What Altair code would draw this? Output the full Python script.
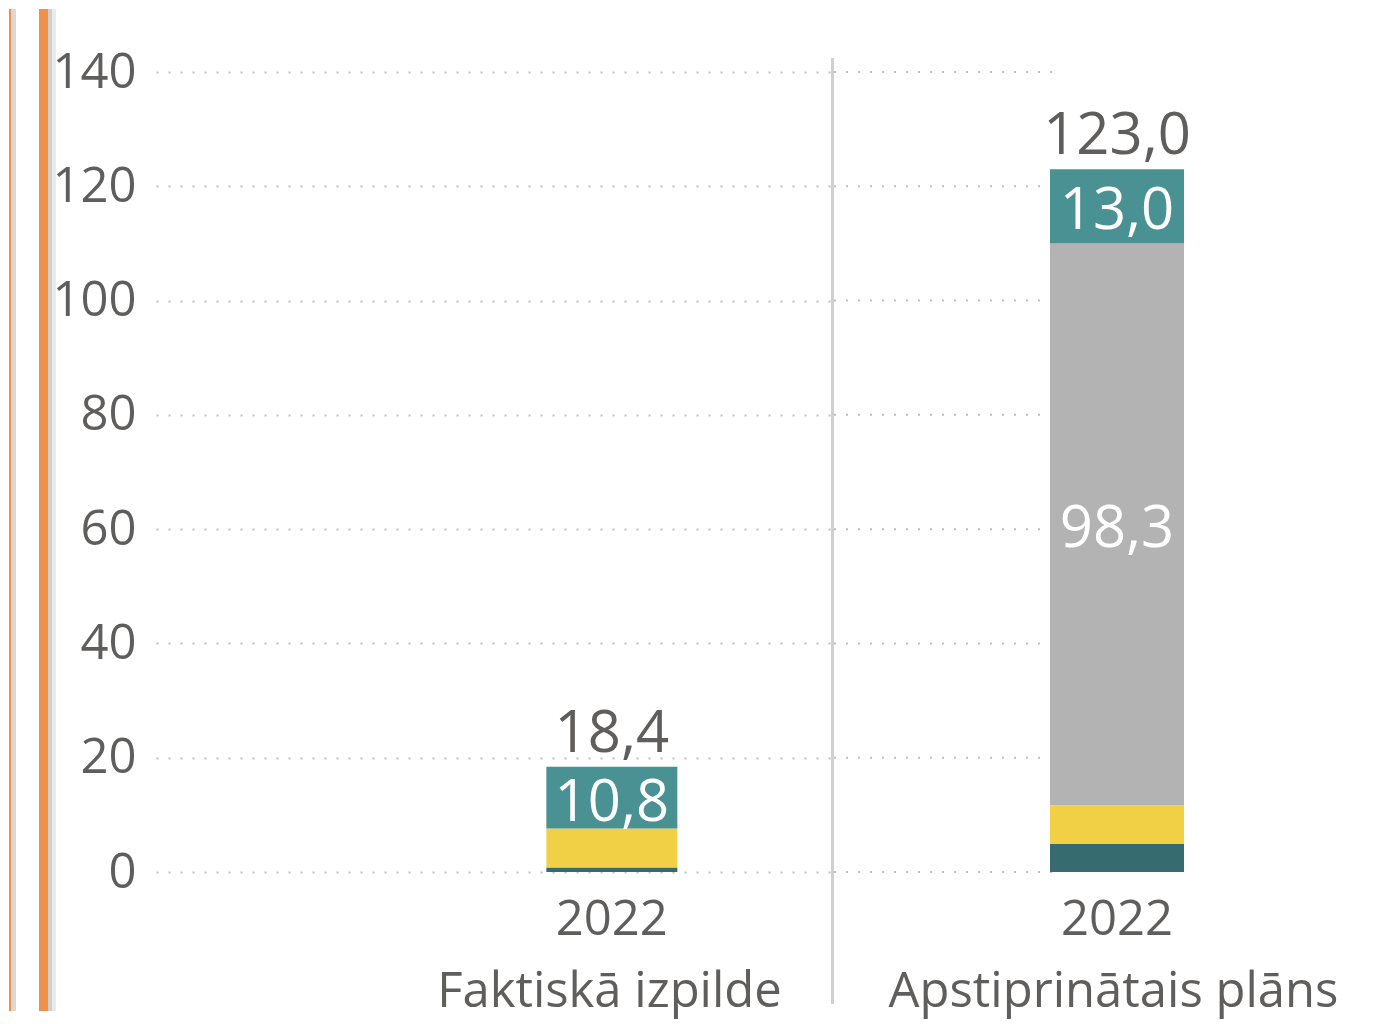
import altair as alt
import pandas as pd

# ---- data ----
groups = ["Faktiskā izpilde", "Apstiprinātais plāns"]
year = "2022"
series = ["Sērija 1", "Sērija 2", "Sērija 3", "Sērija 4"]  # bottom -> top
colors = ["#366C6F", "#F2D045", "#B3B3B3", "#4A9193"]
fakt_values = [0.8, 6.8, 0.0, 10.8]
plan_values = [4.9, 6.8, 98.3, 13.0]
totals = [18.4, 123.0]
show_label = [False, False, True, True]
y_ticks = [0, 20, 40, 60, 80, 100, 120, 140]

FONT = "Open Sans"
TXT = "#605E5C"
GRID = "#BFBFBF"
FS = 49      # axis text
FS_LBL = 58  # data labels


def fmt(v):
    return f"{v:.1f}".replace(".", ",")


def seg_df(values):
    return pd.DataFrame({
        "year": [year] * len(series),
        "series": series,
        "idx": list(range(len(series))),
        "value": values,
        "label": [fmt(v) if s and v > 0 else "" for v, s in zip(values, show_label)],
    })


def panel(values, total, group, width, bar_w, align, title_x, left):
    df = seg_df(values)
    tot = pd.DataFrame({"year": [year], "total": [total], "label": [fmt(total)]})
    ydom = alt.Scale(domain=[0, 140], nice=False, zero=True)
    xenc = alt.X(
        "year:N",
        scale=alt.Scale(domain=[year], paddingInner=0, paddingOuter=1, align=align),
        axis=alt.Axis(
            labelFontSize=FS, labelColor=TXT, labelFont=FONT, labelPadding=23, labelAngle=0,
            domain=False, ticks=False, grid=False,
            title=group, titleFontSize=FS, titleColor=TXT, titleFont=FONT,
            titleFontWeight="normal", titleX=title_x, titleY=134,
            titleAlign="center", titleBaseline="alphabetic",
        ),
    )
    if left:
        yaxis = alt.Axis(
            values=y_ticks, labelFontSize=FS, labelColor=TXT, labelFont=FONT, labelPadding=20,
            domain=False, ticks=False, grid=True, gridDash=[2, 10], gridColor=GRID,
            gridWidth=2, title=None,
        )
    else:
        yaxis = None

    layers = []
    if not left:
        grid = alt.Chart(pd.DataFrame({"v": y_ticks})).mark_rule(
            strokeDash=[2, 10], color=GRID, strokeWidth=2
        ).encode(y=alt.Y("v:Q", scale=ydom, axis=None), x=alt.value(0), x2=alt.value(222))
        layers.append(grid)

    bars = alt.Chart(df).mark_bar(width=bar_w).encode(
        x=xenc,
        y=alt.Y("value:Q", stack="zero", scale=ydom, axis=yaxis),
        color=alt.Color("series:N", scale=alt.Scale(domain=series, range=colors), legend=None),
        order=alt.Order("idx:Q"),
    )
    layers.append(bars)

    seg_text = alt.Chart(df).transform_stack(
        stack="value", groupby=["year"], as_=["y0", "y1"], sort=[alt.SortField("idx")]
    ).transform_calculate(mid="(datum.y0 + datum.y1) / 2").transform_filter(
        "datum.label != ''"
    ).mark_text(
        font=FONT, fontSize=FS_LBL, color="white", baseline="middle", dy=6
    ).encode(x=xenc, y=alt.Y("mid:Q", scale=ydom), text="label:N")
    layers.append(seg_text)

    tot_text = alt.Chart(tot).mark_text(
        font=FONT, fontSize=FS_LBL, color=TXT, baseline="alphabetic", dy=-15
    ).encode(x=xenc, y=alt.Y("total:Q", scale=ydom), text="label:N")
    layers.append(tot_text)

    if left:
        deco = pd.DataFrame({"k": [0]})
        stripe_a = alt.Chart(deco).mark_rect(color="#F0914A").encode(
            x=alt.value(-147), x2=alt.value(-145), y=alt.value(-63), y2=alt.value(939))
        shade_a = alt.Chart(deco).mark_rect(color="#D9D9D9").encode(
            x=alt.value(-145), x2=alt.value(-140), y=alt.value(-63), y2=alt.value(939))
        stripe_b = alt.Chart(deco).mark_rect(color="#F0914A").encode(
            x=alt.value(-117), x2=alt.value(-108), y=alt.value(-63), y2=alt.value(939))
        shade_b1 = alt.Chart(deco).mark_rect(color="#CFCFCF").encode(
            x=alt.value(-108), x2=alt.value(-104), y=alt.value(-63), y2=alt.value(939))
        shade_b2 = alt.Chart(deco).mark_rect(color="#EAEAEA").encode(
            x=alt.value(-104), x2=alt.value(-100), y=alt.value(-63), y2=alt.value(939))
        layers += [stripe_a, shade_a, stripe_b, shade_b1, shade_b2]
    else:
        sep = alt.Chart(pd.DataFrame({"k": [0]})).mark_rule(color="#D0D0D0", strokeWidth=3).encode(
            x=alt.value(-1.5), y=alt.value(-14), y2=alt.value(932))
        layers.append(sep)

    return alt.layer(*layers).properties(width=width, height=800)


left = panel(fakt_values, totals[0], groups[0], 675, 131, 0.763, 453, True)
right = panel(plan_values, totals[1], groups[1], 500, 134, 0.599, 279, False)

chart = alt.hconcat(left, right, spacing=3, bounds="flush").properties(
    padding={"left": 0, "top": 0, "right": 0, "bottom": 4}
).configure(font=FONT, view=alt.ViewConfig(stroke="transparent"))

chart.save("out.html", embed_options={"renderer": "svg", "actions": False})
